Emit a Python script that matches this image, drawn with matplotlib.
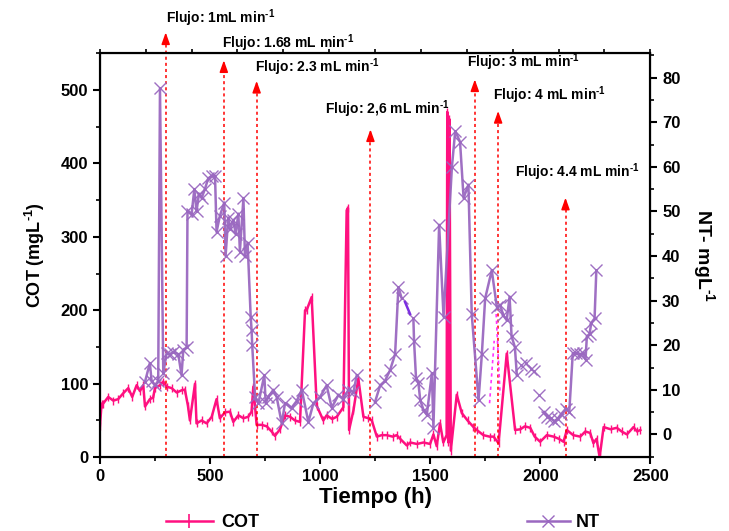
import numpy as np
import matplotlib
matplotlib.use("Agg")
import matplotlib.pyplot as plt
from matplotlib.lines import Line2D

plt.rcParams['font.family'] = 'Liberation Sans'
plt.rcParams['font.weight'] = 'bold'
plt.rcParams['mathtext.fontset'] = 'custom'
plt.rcParams['mathtext.rm'] = 'Liberation Sans:bold'
plt.rcParams['mathtext.default'] = 'rm'

# COT (left axis), time in h
cot_t = [0, 8, 15, 38, 61, 83, 106, 129, 147, 167, 182, 197, 205, 227, 242, 250, 273, 288,
         303, 326, 349, 371, 386, 400, 409, 432, 439, 462, 485, 508, 530, 545, 568, 591,
         606, 629, 652, 674, 689, 697, 712, 735, 758, 780, 795, 818, 841, 864, 886, 909,
         932, 939, 962, 985, 1015, 1030, 1055, 1076, 1106, 1121, 1127, 1132, 1152, 1174,
         1197, 1220, 1235, 1258, 1280, 1303, 1330, 1348, 1364, 1394, 1410, 1440, 1470,
         1500, 1515, 1530, 1545, 1560, 1575, 1578, 1583, 1588, 1594, 1621, 1644, 1670,
         1697, 1712, 1742, 1770, 1788, 1811, 1848, 1886, 1910, 1930, 1955, 1975, 2000,
         2030, 2061, 2085, 2106, 2121, 2150, 2182, 2205, 2227, 2242, 2256, 2270, 2288,
         2320, 2348, 2370, 2394, 2424, 2440, 2455]
cot = [42, 73, 73, 82, 77, 79, 87, 94, 82, 98, 90, 98, 69, 79, 81, 94, 98, 103,
       96, 94, 88, 91, 92, 70, 50, 100, 46, 50, 46, 55, 79, 53, 61, 62,
       48, 57, 53, 55, 62, 96, 44, 44, 42, 35, 29, 38, 57, 55, 50, 48,
       200, 200, 218, 70, 50, 57, 52, 55, 68, 336, 339, 37, 64, 107,
       55, 53, 50, 28, 30, 30, 28, 30, 25, 16, 20, 18, 20,
       18, 31, 15, 46, 20, 30, 470, 20, 460, 9, 85, 60, 50,
       41, 37, 30, 28, 28, 19, 141, 37, 38, 42, 40, 28, 21,
       30, 28, 25, 21, 37, 30, 28, 35, 33, 19, 25, 0, 41,
       38, 40, 35, 31, 41, 35, 37]

# NT (right axis); NaN = break in the line
nan = np.nan
nt_t = [205, 227, 235, 250, 265, 273, 288, 303, 318, 333, 356, 371, 379, 394, 398, 417,
        429, 439, 450, 462, 477, 492, 508, 523, 530, 545, 565, 571, 583, 591, 606, 617,
        629, 636, 652, 659, 671, 685, 689, 692, 705, 720, 747, 753, 765, 788, 803, 826,
        841, 871, 894, 917, 947, 970, 1000, 1030, 1053, 1083, 1106, 1129, 1152, 1167,
        1200, 1250, 1273, 1295, 1318, 1341, 1356, 1371, 1395, 1424, 1427, 1436, 1447,
        1455, 1470, 1485, 1508, 1515, 1541, 1561, 1599, 1614, 1636, 1652, 1674, 1689,
        1720, 1735, 1750, 1780, 1803, 1818, 1833, 1848, 1861, 1870, 1885, 1894, 1904,
        1914, 1924, 1935, 1946, 1958, 1964, 1970, 1982, 1994, 2006, 2018, 2033, 2048,
        2064, 2079, 2094, 2117, 2132, 2148, 2164, 2179, 2194, 2206, 2212, 2224, 2232,
        2247, 2255]
nt = [11.8, 16, 12, 11, 12, 77.6, 13.7, 18.2, 18, 18.5, 18, 13.3, 19, 19.5, 50, 49.5,
      55, 50, 54, 53, 55, 57.4, 58, 58, 45.4, 49, 52, 40, 48.6, 46, 48, 45,
      49.5, 41, 53, 40, 43, 26.4, 23.5, 20, 8.4, 7, 13.3, 7, 8.4, 10, 8.4, 2.5,
      7, 6, 7.5, 10, 2.8, 7, 8.4, 11, 6, 8.8, 8, 10, 9.5, 13.3,
      nan, 7.3, 11, 12, 14.4, 18, 33, 30.5, nan, 26, 21, 12.6, 11.5,
      7.7, 5.5, 4.4, 13.7, 1.5, 47, 26.4, 60, 68, 65.6, 53, 56, 27,
      7.7, 18, 30.5, 36.8, 28.6, 29, 26.7, 25.6, 30.9, 22, 19.6, 13.3, nan,
      15.6, nan, 16, nan, 14.6, nan, 14.2, nan, 8.8, nan, 5, 4, 3.6,
      3, 3.5, 4.5, 5.8, 5, 18.2, 18.2, 18, 18.2, 16.8, 22, 22.5, 25,
      26, 36.8]

# flow changes: time, arrow tip (COT units), label
sup = r'$^{\text{-1}}$'
flow_t = [299, 563, 712, 1229, 1703, 1809, 2115]
flow_tip = [582, 544, 516, 450, 518, 475, 357]
flow_lbl = ['Flujo: 1mL min', 'Flujo: 1.68 mL min', 'Flujo: 2.3 mL min',
            'Flujo: 2,6 mL min', 'Flujo: 3 mL min', 'Flujo: 4 mL min',
            'Flujo: 4.4 mL min']
lbl_pos = [(300, 598), (555, 564), (705, 531), (1023, 473), (1668, 537), (1786, 493), (1886, 388)]

pink = '#FF1080'
purple = '#9A68C0'

fig = plt.figure(figsize=(7.29, 5.31), dpi=100)
ax = fig.add_axes([0.137, 0.139, 0.755, 0.761])
ax2 = ax.twinx()

ax.plot(cot_t, cot, color=pink, lw=1.8, marker='|', ms=6, mew=1, zorder=3)
ax2.plot(nt_t, nt, color=purple, lw=1.8, marker='x', ms=9, mew=1, alpha=0.95)
ax2.plot([1386, 1409], [29.7, 27], color='#7B2FE0', lw=1.8)
ax2.plot([1770, 1791], [7, 21], color='#FF33FF', lw=1.2, ls=(0, (2, 2)))
ax2.plot([1800, 1818], [27, 9], color='#FF33FF', lw=1.2, ls=(0, (2, 2)))

for t, tip, lbl, (lx, ly) in zip(flow_t, flow_tip, flow_lbl, lbl_pos):
    ax.plot([t, t], [0, tip - 10], color='red', lw=1.1, ls=(0, (2, 2)), clip_on=False, zorder=4)
    ax.annotate('', xy=(t, tip), xytext=(t, tip - 14),
                arrowprops=dict(arrowstyle='-|>,head_width=0.25,head_length=0.7',
                                color='red', lw=1.1),
                annotation_clip=False, zorder=4)
    ax.text(lx, ly, lbl + sup, fontsize=10, fontweight='bold', va='center', ha='left',
            clip_on=False)

ax.set_xlim(0, 2500)
ax.set_ylim(0, 550)
ax2.set_ylim(-5.1, 85.5)
ax.set_xticks(range(0, 2501, 500))
ax.set_xticks(range(250, 2500, 500), minor=True)
ax.set_yticks(range(0, 501, 100))
ax.set_yticks(range(50, 551, 100), minor=True)
ax2.set_yticks(range(0, 81, 10))
ax2.set_yticks(range(-5, 86, 10), minor=True)

for a in (ax, ax2):
    for s in a.spines.values():
        s.set_linewidth(1.5)
    a.tick_params(which='major', length=5, width=1.5, labelsize=12)
    a.tick_params(which='minor', length=3, width=1.2)
    for lab in a.get_xticklabels() + a.get_yticklabels():
        lab.set_fontweight('bold')

# top axis ticks
axt = ax.twiny()
axt.set_xlim(0, 12)
axt.set_xticks(range(13))
axt.set_xticklabels([])
axt.tick_params(length=3, width=1.2)

ax.set_xlabel('Tiempo (h)', fontsize=16, fontweight='bold', labelpad=2)
ax.set_ylabel('COT (mgL' + sup + ')', fontsize=13, fontweight='bold', labelpad=10)
ax2.set_ylabel('NT- mgL' + sup, fontsize=14, fontweight='bold', rotation=270, labelpad=26)

h1 = Line2D([], [], color=pink, lw=1.8, marker='|', ms=10, mew=1.2)
h2 = Line2D([], [], color=purple, lw=1.8, marker='x', ms=9, mew=1)
fig.legend([h1], ['COT'], loc='center left', bbox_to_anchor=(0.205, 0.016),
           frameon=False, prop={'weight': 'bold', 'size': 13}, handlelength=2.6,
           handletextpad=0.5)
fig.legend([h2], ['NT'], loc='center left', bbox_to_anchor=(0.70, 0.016),
           frameon=False, prop={'weight': 'bold', 'size': 13}, handlelength=2.4,
           handletextpad=0.3)

fig.savefig('out.png', dpi=100)
